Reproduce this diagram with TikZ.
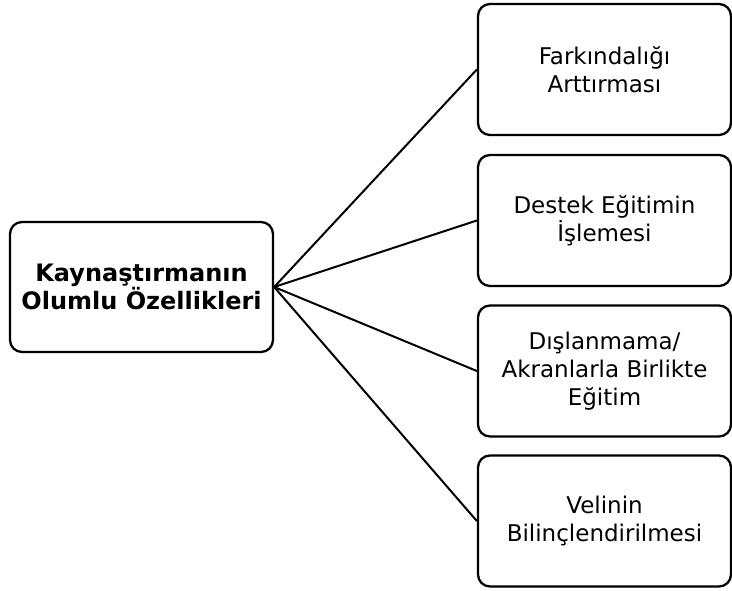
\documentclass[tikz,border=0pt]{standalone}
\usepackage{fontspec}
\setmainfont{DejaVu Sans}
\begin{document}
\begin{tikzpicture}[x=1pt,y=-1pt,
  box/.style={draw=black, line width=2.3pt, rounded corners=12pt, align=center,
    inner sep=0pt},
  item/.style={box, minimum width=253pt, minimum height=131pt,
    font=\fontsize{23}{27.7}\selectfont},
  link/.style={line width=2pt}]
\useasboundingbox (0,0) rectangle (732,590);
% central topic
\node[box, minimum width=263pt, minimum height=130pt,
  font=\fontsize{24}{27}\selectfont\bfseries] (root) at (141.5,287)
  {Kaynaştırmanın\\Olumlu Özellikleri};
% the four properties
\node[item] (p1) at (604.5,69.5) {Farkındalığı\\Arttırması};
\node[item] (p2) at (604.5,220.5) {Destek Eğitimin\\İşlemesi};
\node[item] (p3) at (604.5,371) {Dışlanmama/\\Akranlarla Birlikte\\Eğitim};
\node[item] (p4) at (604.5,521) {Velinin\\Bilinçlendirilmesi};
% connectors from the central topic
\foreach \p in {p1,p2,p3,p4}
  \draw[link] (root.east) -- (\p.west);
\end{tikzpicture}
\end{document}
